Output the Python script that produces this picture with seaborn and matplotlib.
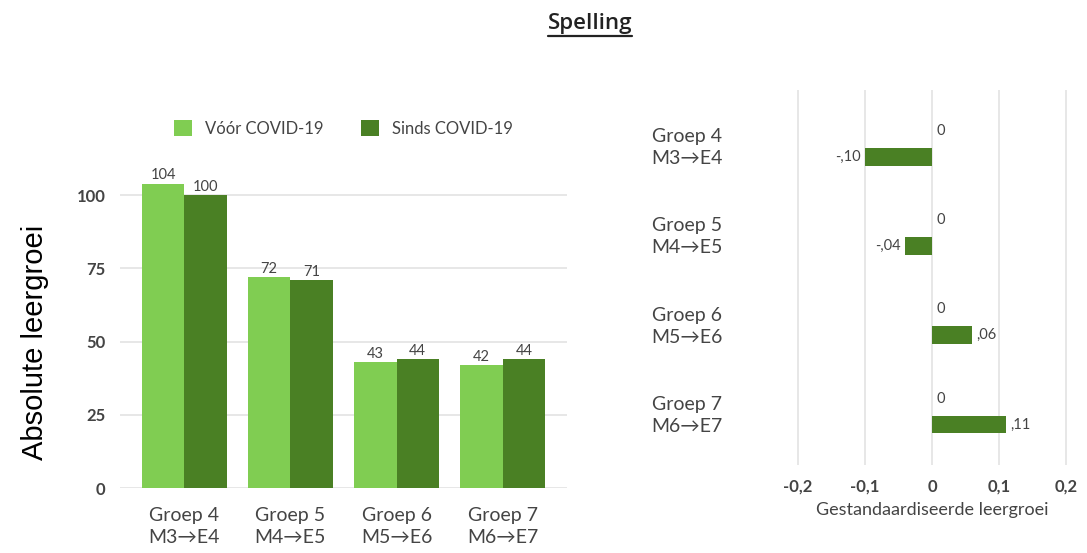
import matplotlib
matplotlib.use("Agg")
import matplotlib.pyplot as plt
import seaborn as sns
import pandas as pd
from matplotlib.lines import Line2D

groups = ["Groep 4\nM3→E4", "Groep 5\nM4→E5", "Groep 6\nM5→E6", "Groep 7\nM6→E7"]
series = ["Vóór COVID-19", "Sinds COVID-19"]
abs_before = [104, 72, 43, 42]
abs_since = [100, 71, 44, 44]
std_before = [0.0, 0.0, 0.0, 0.0]
std_since = [-0.10, -0.04, 0.06, 0.11]
y_ticks = [0, 25, 50, 75, 100]
x_ticks = [-0.2, -0.1, 0.0, 0.1, 0.2]

LIGHT = "#80CD52"
DARK = "#4A8024"
TXT = "#444444"

sns.set_theme(style="white")
plt.rcParams["font.family"] = ["Lato", "DejaVu Sans"]

df_abs = pd.DataFrame({
    "groep": groups * 2,
    "waarde": abs_before + abs_since,
    "periode": [series[0]] * 4 + [series[1]] * 4,
})
df_std = pd.DataFrame({
    "groep": groups * 2,
    "waarde": std_before + std_since,
    "periode": [series[0]] * 4 + [series[1]] * 4,
})

fig = plt.figure(figsize=(10.87, 5.53), dpi=100)
ax1 = fig.add_axes([0.110, 0.1175, 0.412, 0.611])
ax2 = fig.add_axes([0.731, 0.159, 0.253, 0.678])

# Left chart
sns.barplot(data=df_abs, x="groep", y="waarde", hue="periode", hue_order=series,
            palette=[LIGHT, DARK], width=0.8, ax=ax1, saturation=1, linewidth=0)
ax1.set_ylim(0, 115.4)
ax1.set_xlim(-0.61, 3.61)
ax1.set_yticks(y_ticks)
ax1.yaxis.grid(True, color="#e3e3e3", linewidth=1.2)
ax1.set_axisbelow(True)
for s in ax1.spines.values():
    s.set_visible(False)
ax1.tick_params(axis="y", length=0, labelsize=12, colors=TXT, pad=10)
ax1.tick_params(axis="x", length=0, labelsize=14, colors=TXT, pad=14)
for lab in ax1.get_yticklabels():
    lab.set_fontweight("bold")
for lab in ax1.get_xticklabels():
    lab.set_linespacing(1.35)
ax1.set_xlabel("")
ax1.set_ylabel("Absolute leergroei", fontsize=21, color="black",
               family=["Liberation Sans", "DejaVu Sans"])
ax1.yaxis.set_label_coords(-0.157, 0.43)
for c in ax1.containers:
    ax1.bar_label(c, fmt="%d", fontsize=10.5, color=TXT, padding=1)
ax1.legend(ncol=2, frameon=False, loc="lower center", bbox_to_anchor=(0.5, 1.0),
           fontsize=12, handlelength=1.1, handleheight=1.1, columnspacing=2.2,
           labelcolor=TXT, borderaxespad=0.4)

# Right chart
sns.barplot(data=df_std, y="groep", x="waarde", hue="periode", hue_order=series,
            palette=[LIGHT, DARK], width=0.58, orient="h", ax=ax2, saturation=1,
            legend=False, linewidth=0)
for c in ax2.containers:
    for p in c.patches:
        cy = p.get_y() + p.get_height() / 2
        p.set_height(0.2)
        p.set_y(cy - 0.1)


def fmt_std(v):
    if abs(v) < 1e-9:
        return "0"
    s = f"{v:.2f}".replace(".", ",")
    return s.replace("0,", ",")


for c in ax2.containers:
    vals = [p.get_width() for p in c.patches]
    ax2.bar_label(c, labels=[fmt_std(v) for v in vals], fontsize=10.5, color=TXT, padding=3)

ax2.set_xlim(-0.205, 0.205)
ax2.set_ylim(3.6, -0.6)
ax2.set_xticks(x_ticks)
ax2.set_xticklabels([("%g" % t).replace(".", ",") for t in x_ticks])
ax2.xaxis.grid(True, color="#e3e3e3", linewidth=1.2)
ax2.set_axisbelow(True)
for s in ax2.spines.values():
    s.set_visible(False)
ax2.tick_params(axis="x", length=0, labelsize=12, colors=TXT, pad=10)
ax2.tick_params(axis="y", length=0, labelsize=14, colors=TXT, pad=52)
for lab in ax2.get_xticklabels():
    lab.set_fontweight("bold")
for lab in ax2.get_yticklabels():
    lab.set_horizontalalignment("right")
    lab.set_linespacing(1.35)
ax2.set_ylabel("")
ax2.set_xlabel("Gestandaardiseerde leergroei", fontsize=13, color=TXT, labelpad=5)

# Title with underline
title = fig.text(0.543, 0.958, "Spelling", ha="center", va="center", fontsize=16,
                 color="#222222", fontweight="semibold", family=["Open Sans", "DejaVu Sans"])
fig.canvas.draw()
bb = title.get_window_extent().transformed(fig.transFigure.inverted())
fig.add_artist(Line2D([bb.x0, bb.x1], [bb.y0 - 0.004, bb.y0 - 0.004],
                      transform=fig.transFigure, color="#222222", linewidth=1.6))

fig.savefig("out.png", dpi=100)
